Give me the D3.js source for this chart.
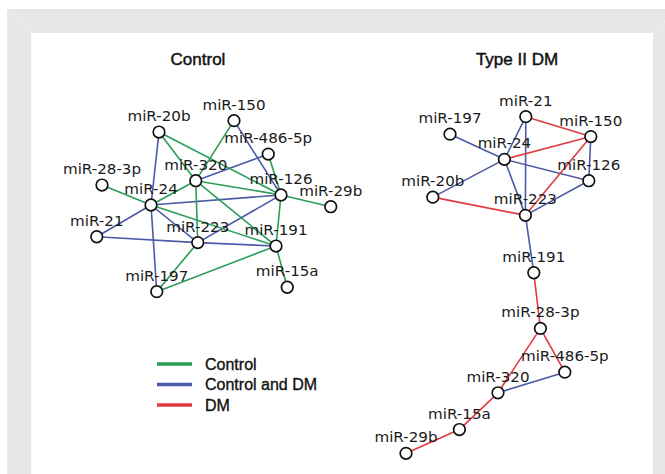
<!DOCTYPE html>
<html>
<head>
<meta charset="utf-8">
<script src="https://cdn.jsdelivr.net/npm/d3@7"></script>
<style>
  body { margin: 0; background: #fff; }
  svg { display: block; }
  .label { font-family: "DejaVu Sans", sans-serif; font-size: 13.5px; fill: #1a1a1a; }
  .title { font-family: "Liberation Sans", Arial, sans-serif; font-size: 17px; fill: #111; stroke: #111; stroke-width: 0.45; }
  .legend-text { font-family: "Liberation Sans", Arial, sans-serif; font-size: 16px; fill: #111; stroke: #111; stroke-width: 0.35; }
</style>
</head>
<body>
<svg width="665" height="474"></svg>
<script>
// node layouts, in 0-100 layout units per panel
var controlNodes = [
    ["miR-150", 57.6, 5.6],
    ["miR-20b", 27.6, 11.6],
    ["miR-486-5p", 71.3, 23.2],
    ["miR-28-3p", 4.8, 39.5],
    ["miR-320", 42.3, 37.2],
    ["miR-126", 76.4, 44.7],
    ["miR-29b", 96.3, 50.9],
    ["miR-24", 24.4, 50],
    ["miR-21", 2.7, 66.7],
    ["miR-223", 43.1, 69.8],
    ["miR-191", 74.4, 71.6],
    ["miR-15a", 78.9, 93.3],
    ["miR-197", 26.7, 95.6]
];

var dmNodes = [
    ["miR-21", 62.9, 1.9],
    ["miR-197", 25, 6.9],
    ["miR-150", 95.4, 7.6],
    ["miR-24", 52.2, 14.1],
    ["miR-126", 94.4, 20.2],
    ["miR-20b", 16.4, 24.9],
    ["miR-223", 62.7, 30.1],
    ["miR-191", 66.9, 46.5],
    ["miR-28-3p", 70.2, 62.4],
    ["miR-486-5p", 82.4, 74.9],
    ["miR-320", 49, 80.8],
    ["miR-15a", 29.7, 91.3],
    ["miR-29b", 3, 98.1]
];

// edges: source, target, group
var controlLinks = [
    ["miR-20b", "miR-24", "both"],
    ["miR-24", "miR-197", "both"],
    ["miR-150", "miR-126", "both"],
    ["miR-320", "miR-486-5p", "both"],
    ["miR-24", "miR-126", "both"],
    ["miR-24", "miR-21", "both"],
    ["miR-21", "miR-223", "both"],
    ["miR-223", "miR-191", "both"],
    ["miR-223", "miR-126", "both"],
    ["miR-24", "miR-223", "both"],
    ["miR-20b", "miR-320", "control"],
    ["miR-20b", "miR-126", "control"],
    ["miR-150", "miR-320", "control"],
    ["miR-486-5p", "miR-126", "control"],
    ["miR-28-3p", "miR-24", "control"],
    ["miR-24", "miR-191", "control"],
    ["miR-24", "miR-320", "control"],
    ["miR-320", "miR-223", "control"],
    ["miR-320", "miR-126", "control"],
    ["miR-320", "miR-191", "control"],
    ["miR-126", "miR-29b", "control"],
    ["miR-126", "miR-191", "control"],
    ["miR-191", "miR-15a", "control"],
    ["miR-191", "miR-197", "control"],
    ["miR-223", "miR-197", "control"]
];

var dmLinks = [
    ["miR-197", "miR-24", "both"],
    ["miR-20b", "miR-24", "both"],
    ["miR-21", "miR-24", "both"],
    ["miR-21", "miR-223", "both"],
    ["miR-24", "miR-126", "both"],
    ["miR-24", "miR-223", "both"],
    ["miR-126", "miR-150", "both"],
    ["miR-126", "miR-223", "both"],
    ["miR-223", "miR-191", "both"],
    ["miR-320", "miR-486-5p", "both"],
    ["miR-21", "miR-150", "dm"],
    ["miR-24", "miR-150", "dm"],
    ["miR-150", "miR-223", "dm"],
    ["miR-20b", "miR-223", "dm"],
    ["miR-191", "miR-28-3p", "dm"],
    ["miR-28-3p", "miR-320", "dm"],
    ["miR-28-3p", "miR-486-5p", "dm"],
    ["miR-320", "miR-15a", "dm"],
    ["miR-15a", "miR-29b", "dm"]
];

var legendKeys = ["control", "both", "dm"];
var legendLabels = ["Control", "Control and DM", "DM"];
var titles = ["Control", "Type II DM"];

var color = d3.scaleOrdinal()
    .domain(legendKeys)
    .range(["#2a9d57", "#4b5aa9", "#e03a43"]);

var svg = d3.select("svg");

// grey frame with bevelled corners
svg.append("rect").attr("x", 7).attr("y", 9).attr("width", 680).attr("height", 480).attr("fill", "#e6e7e8");
svg.append("rect").attr("x", 31).attr("y", 33).attr("width", 622).attr("height", 460).attr("fill", "#fff");
svg.append("line").attr("x1", 7).attr("y1", 9).attr("x2", 31).attr("y2", 33).attr("stroke", "#f1f1f2").attr("stroke-width", 1);
svg.append("line").attr("x1", 677).attr("y1", 9).attr("x2", 653).attr("y2", 33).attr("stroke", "#f1f1f2").attr("stroke-width", 1);

var panels = [
    { nodes: controlNodes, links: controlLinks,
      x: d3.scaleLinear().domain([0, 100]).range([90, 340]),
      y: d3.scaleLinear().domain([0, 100]).range([110, 300]) },
    { nodes: dmNodes, links: dmLinks,
      x: d3.scaleLinear().domain([0, 100]).range([400, 600]),
      y: d3.scaleLinear().domain([0, 100]).range([110, 460]) }
];

var titleX = d3.scalePoint().domain(titles).range([198, 517]);

svg.selectAll(".title")
    .data(titles)
    .enter().append("text")
    .attr("class", "title")
    .attr("x", d => titleX(d))
    .attr("y", 65)
    .attr("text-anchor", "middle")
    .text(d => d);

panels.forEach(function (p) {
    var pos = {};
    p.nodes.forEach(function (n) {
        pos[n[0]] = { x: p.x(n[1]), y: p.y(n[2]) };
    });

    var g = svg.append("g");

    g.selectAll(".link")
        .data(p.links)
        .enter().append("line")
        .attr("class", "link")
        .attr("x1", d => pos[d[0]].x)
        .attr("y1", d => pos[d[0]].y)
        .attr("x2", d => pos[d[1]].x)
        .attr("y2", d => pos[d[1]].y)
        .attr("stroke", d => color(d[2]))
        .attr("stroke-width", 1.6);

    g.selectAll(".label")
        .data(p.nodes)
        .enter().append("text")
        .attr("class", "label")
        .attr("transform", d => "translate(" + p.x(d[1]) + "," + (p.y(d[2]) - 11) + ") scale(1.12,1)")
        .attr("text-anchor", "middle")
        .text(d => d[0]);

    g.selectAll(".node")
        .data(p.nodes)
        .enter().append("circle")
        .attr("class", "node")
        .attr("cx", d => p.x(d[1]))
        .attr("cy", d => p.y(d[2]))
        .attr("r", 5.8)
        .attr("fill", "#fff")
        .attr("stroke", "#111")
        .attr("stroke-width", 1.7);
});

// legend
var legendY = d3.scalePoint().domain(legendKeys).range([364, 405]);

var legend = svg.selectAll(".legend")
    .data(legendKeys)
    .enter().append("g")
    .attr("class", "legend")
    .attr("transform", d => "translate(0," + legendY(d) + ")");

legend.append("line")
    .attr("x1", 157).attr("x2", 192)
    .attr("stroke", d => color(d))
    .attr("stroke-width", 3.5);

legend.append("text")
    .attr("class", "legend-text")
    .attr("x", 205)
    .attr("y", 5.5)
    .text((d, i) => legendLabels[i]);
</script>
</body>
</html>
